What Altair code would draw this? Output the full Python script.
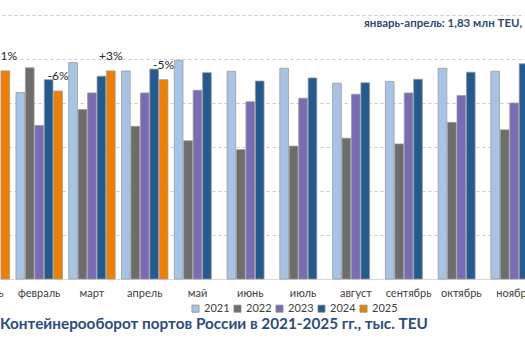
import altair as alt
import pandas as pd

FONT = "Lato"

months = ["январь", "февраль", "март", "апрель", "май", "июнь",
          "июль", "август", "сентябрь", "октябрь", "ноябрь", "декабрь"]
years = ["2021", "2022", "2023", "2024", "2025"]
colors = ["#A7C4E7", "#6D6D6D", "#7B6BB6", "#235A8F", "#F07F00"]

# thousand TEU (None = outside the visible part of the picture)
v2021 = [None, 424, 492, 473, 497, 472, 479, 445, 449, 479, 472, None]
v2022 = [None, 480, 385, 347, 314, 294, 302, 320, 307, 356, 339, None]
v2023 = [None, 349, 423, 423, 429, 403, 411, 420, 423, 417, 400, None]
v2024 = [None, 453, 461, 477, 469, 450, 457, 446, 454, 470, 489, None]
v2025 = [473, 427, 473, 453, None, None, None, None, None, None, None, None]
changes = ["+1%", "-6%", "+3%", "-5%", None, None, None, None, None, None, None, None]

annotation = ["январь-апрель: 1,83 млн TEU,"]
title_text = "Контейнерооборот портов России в 2021-2025 гг., тыс. TEU"

rows = []
for y, series in zip(years, [v2021, v2022, v2023, v2024, v2025]):
    for m, v in zip(months, series):
        if v is not None:
            rows.append({"month": m, "year": y, "value": v})
df = pd.DataFrame(rows)

lab_rows = [{"month": m, "year": "2025", "value": v, "label": c}
            for m, v, c in zip(months, v2025, changes) if c is not None]
df_lab = pd.DataFrame(lab_rows)

x_enc = alt.X(
    "month:N", sort=months, title=None,
    scale=alt.Scale(domain=months, range=[-39.96, 593.28],
                    paddingInner=0.12, paddingOuter=0.06),
    axis=alt.Axis(labelAngle=0, ticks=False, domain=True, domainColor="#D9D9D9",
                  labelFont=FONT, labelFontSize=11, labelColor="#404040",
                  labelPadding=8, grid=False),
)
xoff_enc = alt.XOffset("year:N", scale=alt.Scale(domain=years, paddingInner=0.08))
y_enc = alt.Y(
    "value:Q", title=None, scale=alt.Scale(domain=[0, 600], nice=False),
    axis=alt.Axis(values=[100, 200, 300, 400, 500, 600], labels=False, ticks=False,
                  domain=False, grid=True, gridDash=[3, 3], gridColor="#C8C8C8"),
)

bars = alt.Chart(df).mark_bar(stroke="#9A9A9A", strokeWidth=0.8).encode(
    x=x_enc,
    xOffset=xoff_enc,
    y=y_enc,
    color=alt.Color(
        "year:N", scale=alt.Scale(domain=years, range=colors),
        legend=alt.Legend(orient="none", legendX=190, legendY=288, direction="horizontal",
                          title=None, symbolType="square", symbolSize=50,
                          symbolStrokeColor="#888888", symbolStrokeWidth=0.8,
                          labelFont=FONT, labelFontSize=11, labelColor="#404040",
                          columnPadding=2, labelOffset=3),
    ),
)

labels = alt.Chart(df_lab).mark_text(dy=-15, font=FONT, fontSize=12, color="#262626").encode(
    x=x_enc, xOffset=xoff_enc, y=y_enc, text="label:N"
)

note = alt.Chart(pd.DataFrame({"t": annotation})).mark_text(
    align="left", baseline="middle", font=FONT, fontSize=11.5, fontWeight="bold",
    color="#2E4A6E"
).encode(x=alt.value(364), y=alt.value(9), text="t:N")

chart = alt.layer(bars, labels, note).properties(
    width=525, height=264,
    autosize=alt.AutoSizeParams(type="none"),
    padding={"left": 0, "top": 15, "right": 0, "bottom": 72},
    title=alt.TitleParams(text=title_text, orient="bottom", anchor="start", frame="group",
                          font=FONT, fontSize=15.3, fontWeight="bold", color="#2B4C7E",
                          offset=3),
).configure_view(stroke=None)

chart.save("out.html", embed_options={"renderer": "svg", "actions": False})
